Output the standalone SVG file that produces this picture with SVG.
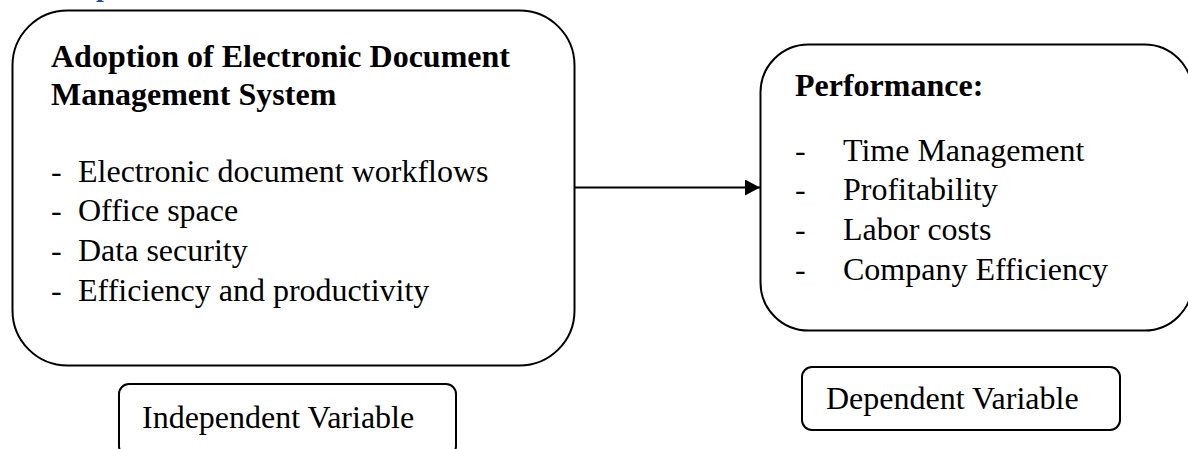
<svg xmlns="http://www.w3.org/2000/svg" width="1188" height="449" viewBox="0 0 1188 449">
<defs>
<style>
.box{fill:#fff;stroke:#000;stroke-width:2}
.t{font-family:"Liberation Serif","Times New Roman",serif;font-size:32px;fill:#000}
.b{font-weight:bold}
.c{stroke:#000;stroke-width:2;fill:none}
</style>
<marker id="ah" markerWidth="15" markerHeight="16" refX="15" refY="8" orient="auto" markerUnits="userSpaceOnUse">
<path d="M0,0 L15,8 L0,16 Z" fill="#000"/>
</marker>
</defs>
<rect width="1188" height="449" fill="#fff"/>
<text x="96" y="-4" font-family="Liberation Serif,serif" font-size="28" font-weight="bold" fill="#1F4E9A">p</text>
<g id="connectors">
<line class="c" x1="575" y1="187.5" x2="760" y2="187.5" marker-end="url(#ah)"/>
</g>
<g id="independent">
<rect class="box" x="12.5" y="10.5" width="562" height="355" rx="55" ry="55"/>
<text class="t b" x="51" y="67">Adoption of Electronic Document</text>
<text class="t b" x="51" y="105">Management System</text>
<text class="t" x="51" y="182">-</text><text class="t" x="78" y="182">Electronic document workflows</text>
<text class="t" x="51" y="221">-</text><text class="t" x="78" y="221">Office space</text>
<text class="t" x="51" y="261">-</text><text class="t" x="78" y="261">Data security</text>
<text class="t" x="51" y="301">-</text><text class="t" x="78" y="301">Efficiency and productivity</text>
</g>
<g id="dependent">
<rect class="box" x="760.5" y="44.5" width="432" height="286" rx="48" ry="48"/>
<text class="t b" x="795" y="96">Performance:</text>
<text class="t" x="795" y="161">-</text><text class="t" x="843" y="161">Time Management</text>
<text class="t" x="795" y="200">-</text><text class="t" x="843" y="200">Profitability</text>
<text class="t" x="795" y="240">-</text><text class="t" x="843" y="240">Labor costs</text>
<text class="t" x="795" y="280">-</text><text class="t" x="843" y="280">Company Efficiency</text>
</g>
<g id="independent-label">
<rect class="box" x="119" y="384" width="337" height="72" rx="10" ry="10"/>
<text class="t" x="142" y="428">Independent Variable</text>
</g>
<g id="dependent-label">
<rect class="box" x="802" y="367" width="318" height="63" rx="10" ry="10"/>
<text class="t" x="826" y="409">Dependent Variable</text>
</g>
</svg>
